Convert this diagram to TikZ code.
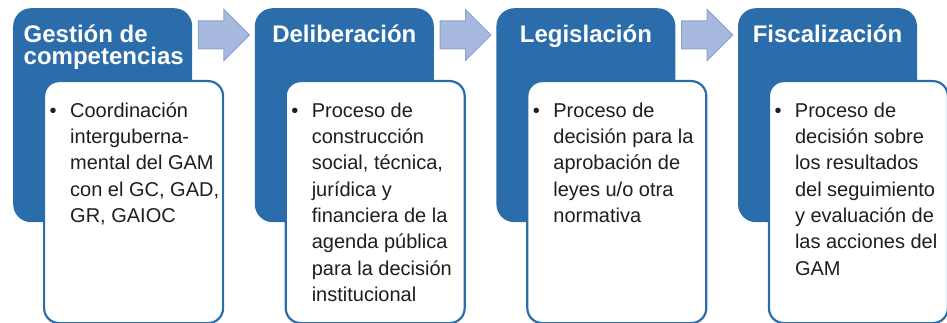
\documentclass[tikz,border=0pt]{standalone}
\usepackage{fontspec}
\setmainfont{Liberation Sans}
\usepackage{xcolor}
\usepackage{tikz}
\usetikzlibrary{positioning, shapes.arrows}
\definecolor{headblue}{HTML}{2B6CAB}
\definecolor{arrowfill}{HTML}{A7B9DE}
\definecolor{arrowline}{HTML}{8CA2D0}
\definecolor{darktext}{HTML}{1E1E1E}
\newcommand{\toprule}{\rule{0pt}{20pt}}
\newcommand{\bulletmark}{\toprule\llap{\textbullet\hspace{13.5pt}}}

\begin{document}
\begin{tikzpicture}[x=1pt, y=-1pt,
    headbox/.style={fill=headblue, rounded corners=18pt, inner sep=0pt,
          minimum width=179pt, minimum height=214pt},
    bodybox/.style={fill=white, draw=headblue, line width=2.2pt, rounded corners=15pt,
          inner sep=0pt, minimum width=179pt, minimum height=242pt},
    headtext/.style={text=white, align=center, inner sep=0pt, anchor=north,
          font=\bfseries\fontsize{24}{22.5}\selectfont},
    bodytext/.style={text=darktext, align=left, inner sep=0pt, anchor=north west,
          font=\fontsize{20}{26.3}\selectfont},
    flowarrow/.style={single arrow, fill=arrowfill, draw=arrowline, line width=1pt,
          inner xsep=0pt, inner ysep=13.5pt, single arrow head extend=11.5pt,
          minimum height=51pt, anchor=west}]
    \useasboundingbox (0,0) rectangle (947,323);

    \node[headbox, anchor=north west] (head1) at (13,8) {};
    \node[headbox, right=62.2pt of head1] (head2) {};
    \node[headbox, right=62.2pt of head2] (head3) {};
    \node[headbox, right=62.2pt of head3] (head4) {};

    \node[headtext, align=left, anchor=north west] (title1) at ([xshift=10.5pt, yshift=-14pt]head1.north west) {\toprule Gestión de\\competencias};
    \node[headtext] (title2) at ([yshift=-14pt]head2.north) {\toprule Deliberación};
    \node[headtext] (title3) at ([yshift=-14pt]head3.north) {\toprule Legislación};
    \node[headtext] (title4) at ([yshift=-14pt]head4.north) {\toprule Fiscalización};

    \node[bodybox, below right=72pt and 30pt of head1.north west] (body1) {};
    \node[bodybox, below right=72pt and 30pt of head2.north west] (body2) {};
    \node[bodybox, below right=72pt and 30pt of head3.north west] (body3) {};
    \node[bodybox, below right=72pt and 30pt of head4.north west] (body4) {};

    \node[bodytext] (text1) at ([xshift=27pt, yshift=-17pt]body1.north west) {
      \bulletmark Coordinación\\
      interguberna-\\
      mental del GAM\\
      con el GC, GAD,\\
      GR, GAIOC};
    \node[bodytext] (text2) at ([xshift=27pt, yshift=-17pt]body2.north west) {
      \bulletmark Proceso de\\
      construcción\\
      social, técnica,\\
      jurídica y\\
      financiera de la\\
      agenda pública\\
      para la decisión\\
      institucional};
    \node[bodytext] (text3) at ([xshift=27pt, yshift=-17pt]body3.north west) {
      \bulletmark Proceso de\\
      decisión para la\\
      aprobación de\\
      leyes u/o otra\\
      normativa};
    \node[bodytext] (text4) at ([xshift=27pt, yshift=-17pt]body4.north west) {
      \bulletmark Proceso de\\
      decisión sobre\\
      los resultados\\
      del seguimiento\\
      y evaluación de\\
      las acciones del\\
      GAM};

    \node[flowarrow] (arrow1) at ([xshift=5.5pt, yshift=-27pt]head1.north east) {};
    \node[flowarrow] (arrow2) at ([xshift=5.5pt, yshift=-27pt]head2.north east) {};
    \node[flowarrow] (arrow3) at ([xshift=5.5pt, yshift=-27pt]head3.north east) {};
  \end{tikzpicture}
\end{document}
